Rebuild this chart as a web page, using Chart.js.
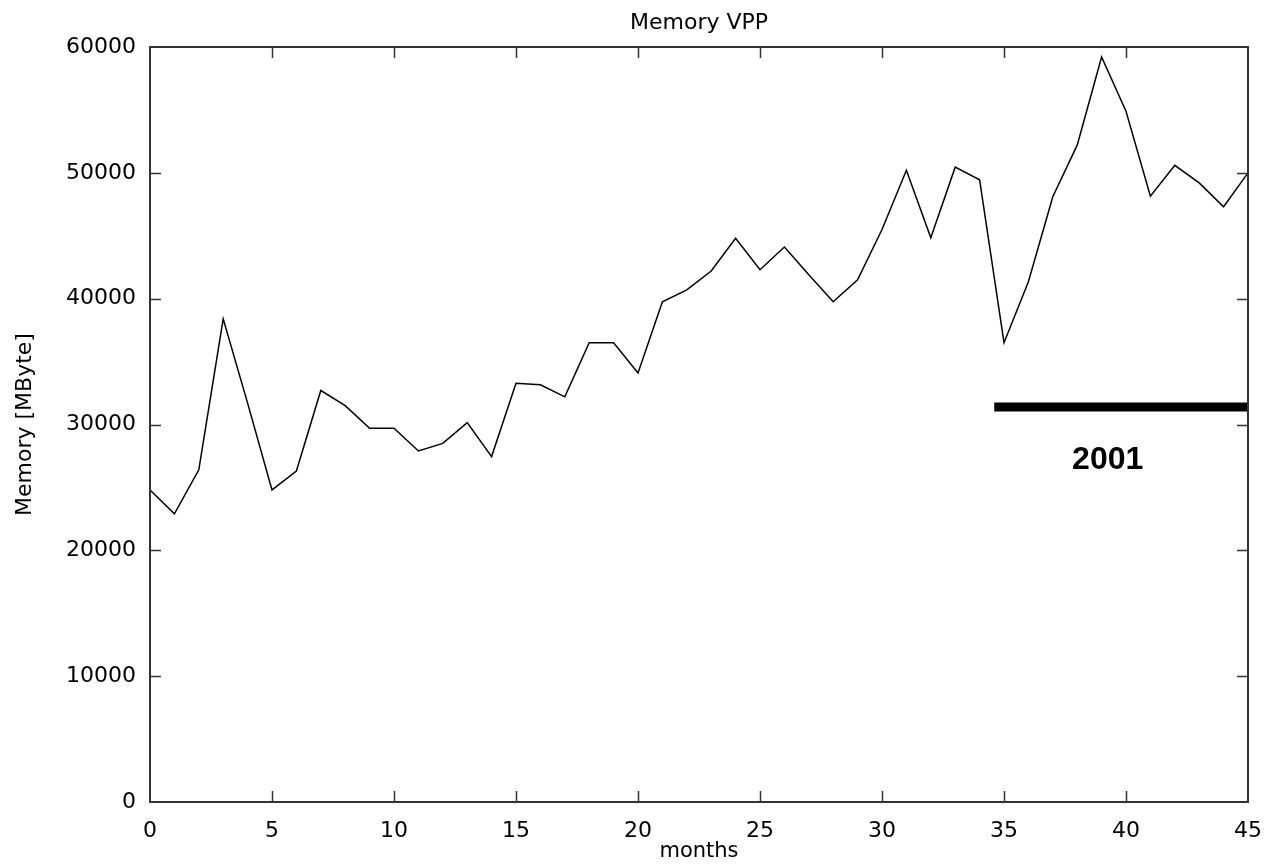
<!DOCTYPE html>
<html>
<head>
<meta charset="utf-8">
<script src="https://cdn.jsdelivr.net/npm/chart.js@4/dist/chart.umd.min.js"></script>
<style>
  html, body { margin: 0; padding: 0; background: #fff; }
  #wrap { width: 1273px; height: 864px; position: relative; }
</style>
</head>
<body>
<div id="wrap"><canvas id="c" width="1273" height="864"></canvas></div>
<script>
// ---- data ----
const months = [0,1,2,3,4,5,6,7,8,9,10,11,12,13,14,15,16,17,18,19,20,21,22,23,24,25,26,27,28,29,30,31,32,33,34,35,36,37,38,39,40,41,42,43,44,45];
const memoryMB = [24800,22900,26400,38400,31700,24800,26300,32700,31500,29700,29700,27900,28500,30150,27450,33270,33150,32200,36500,36500,34100,39750,40700,42200,44800,42300,44100,41900,39750,41500,45500,50200,44850,50450,49450,36500,41350,48100,52200,59200,54900,48150,50600,49200,47300,50000];
const xTicks = [0,5,10,15,20,25,30,35,40,45];
const yTicks = [0,10000,20000,30000,40000,50000,60000];
const yearBarX = [34.6, 45];
const yearBarY = [31400, 31400];
const yearLabel = '2001';
const yearLabelAt = [39.25, 27200];
const chartTitle = 'Memory VPP';
const xTitle = 'months';
const yTitle = 'Memory [MByte]';

const FONT = 'DejaVu Sans';

const frameTicks = {
  id: 'frameTicks',
  afterDatasetsDraw(chart) {
    const {ctx, chartArea: a, scales: {x, y}} = chart;
    ctx.save();
    ctx.strokeStyle = '#333';
    ctx.lineWidth = 2;
    ctx.strokeRect(a.left, a.top, a.right - a.left, a.bottom - a.top);
    ctx.lineWidth = 1.5;
    const L = 11;
    ctx.beginPath();
    x.ticks.forEach(t => {
      if (t.value === x.min || t.value === x.max) return;
      const px = Math.round(x.getPixelForValue(t.value)) + 0.5;
      ctx.moveTo(px, a.bottom); ctx.lineTo(px, a.bottom - L);
      ctx.moveTo(px, a.top); ctx.lineTo(px, a.top + L);
    });
    y.ticks.forEach(t => {
      if (t.value === y.min || t.value === y.max) return;
      const py = Math.round(y.getPixelForValue(t.value)) + 0.5;
      ctx.moveTo(a.left, py); ctx.lineTo(a.left + L, py);
      ctx.moveTo(a.right, py); ctx.lineTo(a.right - L, py);
    });
    ctx.stroke();
    // chart title, centred over the plot area
    ctx.fillStyle = '#000';
    ctx.font = '22px "' + FONT + '"';
    ctx.textAlign = 'center';
    ctx.textBaseline = 'middle';
    ctx.fillText(chartTitle, (a.left + a.right) / 2, 23);
    // year label
    ctx.font = 'bold 32px "Liberation Sans", Arial, sans-serif';
    ctx.fillText(yearLabel, x.getPixelForValue(yearLabelAt[0]), y.getPixelForValue(yearLabelAt[1]));
    ctx.restore();
  }
};

new Chart(document.getElementById('c'), {
  type: 'line',
  data: {
    datasets: [
      {
        data: months.map((m, i) => ({x: m, y: memoryMB[i]})),
        borderColor: '#000',
        borderWidth: 1.5,
        pointRadius: 0,
        tension: 0,
        fill: false
      },
      {
        data: yearBarX.map((v, i) => ({x: v, y: yearBarY[i]})),
        borderColor: '#000',
        borderWidth: 9,
        borderCapStyle: 'butt',
        pointRadius: 0,
        fill: false
      }
    ]
  },
  options: {
    responsive: false,
    animation: false,
    devicePixelRatio: 1,
    layout: { padding: { left: 0, right: 25, top: 47, bottom: 0 } },
    plugins: {
      legend: { display: false },
      tooltip: { enabled: false },
      title: { display: false }
    },
    scales: {
      x: {
        type: 'linear',
        min: 0, max: 45,
        afterBuildTicks: s => { s.ticks = xTicks.map(v => ({value: v})); },
        afterFit: s => { s.height = 62; s.paddingLeft = 0; s.paddingRight = 0; },
        grid: { display: false, drawTicks: false },
        border: { display: false },
        ticks: {
          color: '#000',
          font: { family: FONT, size: 22 },
          padding: 16,
          maxRotation: 0,
          autoSkip: false,
          callback: v => String(v)
        },
        title: {
          display: true,
          text: xTitle,
          color: '#000',
          font: { family: FONT, size: 21, lineHeight: 1.2 },
          padding: { top: 0, bottom: 0 }
        }
      },
      y: {
        type: 'linear',
        min: 0, max: 60000,
        afterBuildTicks: s => { s.ticks = yTicks.map(v => ({value: v})); },
        afterFit: s => { s.width = 150; s.paddingTop = 0; s.paddingBottom = 0; },
        grid: { display: false, drawTicks: false },
        border: { display: false },
        ticks: {
          color: '#000',
          font: { family: FONT, size: 22 },
          padding: 14,
          autoSkip: false,
          callback: v => String(v)
        },
        title: {
          display: true,
          text: yTitle,
          color: '#000',
          font: { family: FONT, size: 22, lineHeight: 1.2 },
          padding: { top: 11.8, bottom: 0 }
        }
      }
    }
  },
  plugins: [frameTicks]
});
</script>
</body>
</html>
